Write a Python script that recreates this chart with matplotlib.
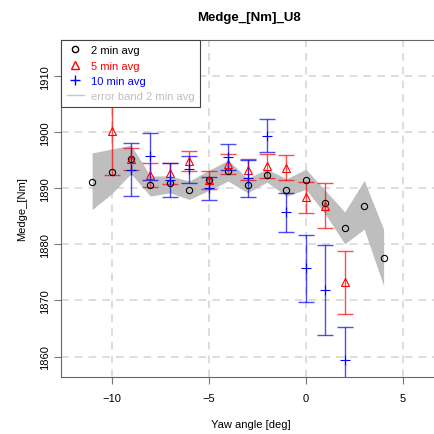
import numpy as np
import matplotlib
matplotlib.use("Agg")
import matplotlib.pyplot as plt
from matplotlib.lines import Line2D

plt.rcParams['font.family'] = ['Liberation Sans', 'DejaVu Sans']

# 2 min averages and grey error band
yaw_2 = [-11, -10, -9, -8, -7, -6, -5, -4, -3, -2, -1, 0, 1, 2, 3, 4]
m_2 = [1891.2, 1892.9, 1895.2, 1890.5, 1890.9, 1889.7, 1891.5, 1893.0,
       1890.5, 1892.3, 1889.7, 1891.5, 1887.4, 1882.9, 1886.9, 1877.5]
band_hi = [1896.3, 1897.0, 1897.7, 1892.2, 1892.2, 1891.3, 1893.2, 1895.0,
           1891.8, 1893.4, 1891.7, 1893.4, 1889.6, 1885.8, 1891.4, 1882.7]
band_lo = [1886.2, 1889.0, 1892.6, 1888.6, 1889.2, 1888.0, 1889.6, 1891.3,
           1889.2, 1891.1, 1888.6, 1889.8, 1885.4, 1880.1, 1882.7, 1872.6]

# 5 min averages (center, half error)
yaw_5 = [-10, -9, -8, -7, -6, -5, -4, -3, -2, -1, 0, 1, 2]
m_5 = [1900.2, 1895.2, 1892.4, 1892.7, 1894.9, 1891.5, 1894.3, 1893.3,
       1894.0, 1893.7, 1888.4, 1886.9, 1873.2]
e_5 = [7.8, 2.0, 2.2, 1.9, 1.8, 1.6, 1.8, 1.9, 2.1, 2.3, 2.8, 4.0, 5.7]

# 10 min averages (center, half error)
yaw_10 = [-9, -8, -7, -6, -5, -4, -3, -2, -1, 0, 1, 2]
m_10 = [1893.3, 1895.7, 1891.5, 1893.4, 1890.0, 1895.6, 1891.8, 1899.4,
        1885.7, 1875.7, 1871.8, 1859.4]
e_10 = [4.7, 4.2, 3.0, 2.4, 2.1, 2.3, 3.3, 2.9, 3.5, 5.9, 8.0, 5.8]

fig = plt.figure(figsize=(4.34, 4.35), dpi=100)
ax = fig.add_axes([61 / 434, 57.3 / 435, 379 / 434, 337 / 435])

ax.fill_between(yaw_2, band_lo, band_hi, color='#BEBEBE', lw=0, zorder=1)

ax.errorbar(yaw_5, m_5, yerr=e_5, fmt='none', ecolor='red', elinewidth=1,
            capsize=6, capthick=1, alpha=0.7, zorder=3)
ax.errorbar(yaw_10, m_10, yerr=e_10, fmt='none', ecolor='blue', elinewidth=1,
            capsize=6, capthick=1, alpha=0.7, zorder=3)

ax.plot(yaw_2, m_2, 'o', mfc='none', mec='black', ms=4.5, mew=0.8, zorder=4)
ax.plot(yaw_5, m_5, '^', mfc='none', mec='red', ms=6, mew=0.8, zorder=4)
ax.plot(yaw_10, m_10, '+', color='blue', ms=7, mew=0.8, zorder=4)

ax.set_xlim(-12.6, 6.9)
ax.set_ylim(1856.4, 1916.5)
ax.set_xticks([-10, -5, 0, 5])
ax.set_yticks([1860, 1870, 1880, 1890, 1900, 1910])
ax.tick_params(direction='out', length=5, color='#777777', labelsize=8)
ax.tick_params(axis='x', pad=7)
ax.tick_params(axis='y', pad=3)
plt.setp(ax.get_yticklabels(), rotation=90, va='center')
ax.grid(True, color='#D3D3D3', ls=(0, (5, 4)), lw=1.1, zorder=0)
ax.set_axisbelow(True)
for s in ['left', 'bottom', 'top']:
    ax.spines[s].set_color('#666666')
ax.spines['right'].set_visible(False)

ax.set_xlabel('Yaw angle [deg]', fontsize=8, labelpad=11)
ax.set_ylabel('Medge_[Nm]', fontsize=8, labelpad=9)
fig.text(249 / 434, 1 - 18 / 435, 'Medge_[Nm]_U8', ha='center', va='center',
         fontsize=9.5, fontweight='bold')

handles = [
    Line2D([], [], ls='none', marker='o', mfc='none', mec='black', ms=4.5),
    Line2D([], [], ls='none', marker='^', mfc='none', mec='red', ms=5.5),
    Line2D([], [], ls='none', marker='+', color='blue', ms=7),
    Line2D([], [], color='#C8C8C8', lw=1),
]
leg = ax.legend(handles, ['2 min avg', '5 min avg', '10 min avg',
                          'error band 2 min avg'],
                loc='upper left', bbox_to_anchor=(0, 1), borderaxespad=0,
                fancybox=False, framealpha=1, edgecolor='#444444',
                fontsize=8, handlelength=1.6, handletextpad=0.6,
                labelspacing=0.48, borderpad=0.5)
leg.get_frame().set_linewidth(0.8)
for t, c in zip(leg.get_texts(), ['black', 'red', 'blue', '#BEBEBE']):
    t.set_color(c)
leg.set_zorder(10)

fig.savefig('out.png', dpi=100)
